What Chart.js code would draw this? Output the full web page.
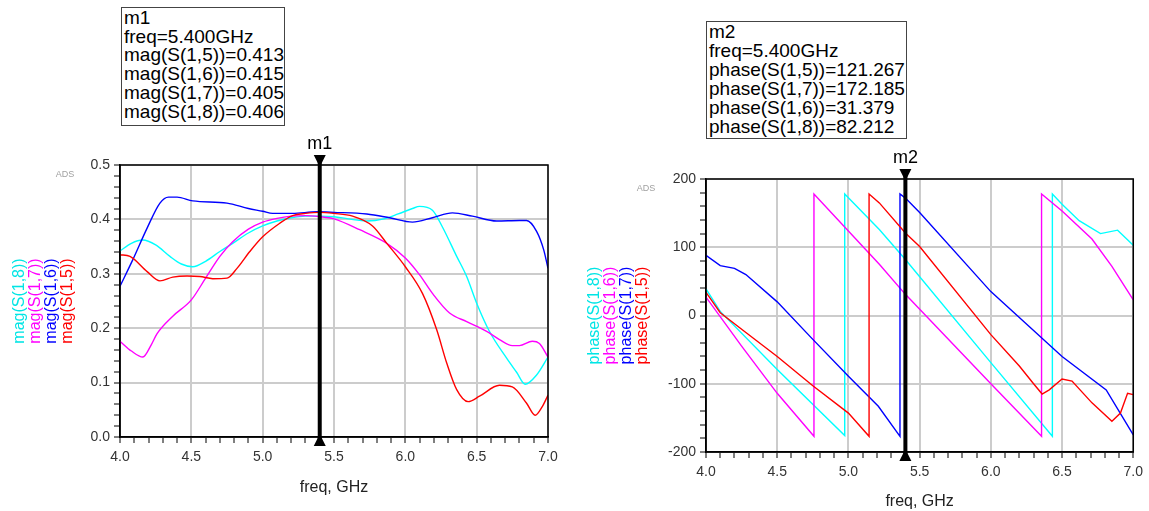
<!DOCTYPE html>
<html>
<head>
<meta charset="utf-8">
<script src="https://cdn.jsdelivr.net/npm/chart.js@4.4.1/dist/chart.umd.min.js"></script>
<style>
  body { margin: 0; background: #fff; width: 1149px; height: 511px; overflow: hidden; position: relative;
         font-family: "Liberation Sans", Arial, sans-serif; }
  .panel { position: absolute; top: 0; }
  .mbox { position: absolute; box-sizing: border-box; border: 1px solid #444; background: #fff;
          font-size: 19px; color: #000; padding-left: 2px; white-space: nowrap; }
</style>
</head>
<body>
<div class="panel" style="left:0"><canvas id="magChart" width="575" height="511"></canvas></div>
<div class="panel" style="left:575px"><canvas id="phaseChart" width="574" height="511"></canvas></div>
<div class="mbox" id="box-m1" style="left:121px;top:7px;width:164px;height:119px;line-height:18.7px;padding-top:1px"></div>
<div class="mbox" id="box-m2" style="left:706px;top:21px;width:201px;height:118px;line-height:19px"></div>

<script>
// marker readouts
const markerFreq = 5.4;
const m1Names = ['mag(S(1,5))', 'mag(S(1,6))', 'mag(S(1,7))', 'mag(S(1,8))'];
const m1Values = ['0.413', '0.415', '0.405', '0.406'];
const m2Names = ['phase(S(1,5))', 'phase(S(1,7))', 'phase(S(1,6))', 'phase(S(1,8))'];
const m2Values = ['121.267', '172.185', '31.379', '82.212'];

// --- magnitude, freq in GHz ---
const magF18 = [4.0, 4.08, 4.16, 4.25, 4.35, 4.43, 4.51, 4.6, 4.7, 4.79, 4.9, 5.0, 5.1, 5.2, 5.3, 5.4, 5.5, 5.6, 5.73, 5.85, 5.95, 6.05, 6.1, 6.19, 6.26, 6.36, 6.43, 6.5, 6.59, 6.71, 6.78, 6.84, 6.92, 7.0];
const magS18 = [0.342, 0.356, 0.362, 0.353, 0.332, 0.318, 0.313, 0.323, 0.341, 0.356, 0.375, 0.388, 0.397, 0.403, 0.406, 0.406, 0.405, 0.401, 0.397, 0.401, 0.41, 0.42, 0.424, 0.417, 0.386, 0.332, 0.295, 0.246, 0.194, 0.145, 0.119, 0.097, 0.114, 0.147];

const magF17 = [4.0, 4.08, 4.16, 4.22, 4.26, 4.37, 4.5, 4.6, 4.7, 4.79, 4.9, 5.0, 5.1, 5.2, 5.3, 5.4, 5.5, 5.68, 5.87, 6.0, 6.1, 6.19, 6.31, 6.43, 6.57, 6.66, 6.75, 6.8, 6.89, 6.94, 7.0];
const magS17 = [0.176, 0.158, 0.147, 0.17, 0.19, 0.222, 0.252, 0.292, 0.332, 0.359, 0.382, 0.395, 0.402, 0.406, 0.407, 0.405, 0.401, 0.381, 0.356, 0.329, 0.298, 0.264, 0.228, 0.212, 0.194, 0.179, 0.168, 0.168, 0.176, 0.172, 0.147];

const magF16 = [4.0, 4.09, 4.19, 4.28, 4.34, 4.4, 4.51, 4.75, 4.9, 5.0, 5.07, 5.21, 5.38, 5.5, 5.73, 5.89, 6.05, 6.19, 6.33, 6.47, 6.64, 6.8, 6.85, 6.92, 6.97, 7.0];
const magS16 = [0.277, 0.326, 0.384, 0.43, 0.441, 0.441, 0.434, 0.43, 0.42, 0.415, 0.411, 0.411, 0.414, 0.413, 0.41, 0.403, 0.395, 0.403, 0.412, 0.406, 0.397, 0.398, 0.398, 0.378, 0.344, 0.31];

const magF15 = [4.0, 4.07, 4.19, 4.28, 4.37, 4.47, 4.56, 4.65, 4.75, 4.82, 4.91, 5.0, 5.12, 5.21, 5.3, 5.4, 5.5, 5.63, 5.77, 5.87, 6.0, 6.12, 6.22, 6.29, 6.36, 6.44, 6.52, 6.66, 6.75, 6.85, 6.91, 6.96, 7.0];
const magS15 = [0.335, 0.332, 0.304, 0.287, 0.294, 0.296, 0.295, 0.291, 0.292, 0.31, 0.341, 0.368, 0.393, 0.407, 0.411, 0.413, 0.411, 0.406, 0.388, 0.356, 0.313, 0.264, 0.197, 0.136, 0.087, 0.065, 0.075, 0.095, 0.092, 0.062, 0.04, 0.056, 0.077];

// --- phase (deg), wraps at +/-180 so jumps repeat the freq ---
const phF18 = [4.0, 4.1, 4.5, 4.974, 4.974, 5.217, 5.4, 6.0, 6.432, 6.432, 6.5, 6.62, 6.77, 6.89, 7.0];
const phS18 = [39, 6, -79, -176, 178, 126, 82, -69, -177, 178, 163, 139, 120, 125, 103];

const phF16 = [4.0, 4.25, 4.5, 4.758, 4.758, 5.217, 5.4, 6.0, 6.356, 6.356, 6.5, 6.71, 6.85, 7.0];
const phS16 = [27, -45, -114, -177, 178, 75, 31, -100, -177, 178, 153, 112, 72, 23];

const phF17 = [4.0, 4.1, 4.2, 4.28, 4.5, 4.75, 5.0, 5.21, 5.362, 5.362, 5.4, 5.5, 6.0, 6.5, 6.81, 7.0];
const phS17 = [88, 73, 69, 60, 20, -35, -89, -133, -177, 178, 172, 151, 35, -60, -109, -175];

const phF15 = [4.0, 4.1, 4.28, 4.5, 4.75, 5.0, 5.145, 5.145, 5.217, 5.4, 5.5, 6.0, 6.2, 6.3, 6.36, 6.41, 6.5, 6.57, 6.71, 6.85, 6.91, 6.96, 7.0];
const phS15 = [34, 4, -25, -60, -103, -143, -177, 178, 165, 121, 101, -28, -74, -100, -115, -109, -93, -96, -128, -155, -143, -114, -116];

const FONT = '"Liberation Sans", Arial, sans-serif';
Chart.defaults.font.family = FONT;

const toPts = (xs, ys) => xs.map((x, i) => ({ x, y: ys[i] }));
const isStep = (v, step) => Math.abs(v / step - Math.round(v / step)) < 1e-6;

function fillBox(id, name, names, values) {
  const lines = [name, 'freq=' + markerFreq.toFixed(3) + 'GHz'];
  names.forEach((n, i) => lines.push(n + '=' + values[i]));
  const box = document.getElementById(id);
  lines.forEach(t => {
    const d = document.createElement('div');
    d.textContent = t;
    box.appendChild(d);
  });
}
fillBox('box-m1', 'm1', m1Names, m1Values);
fillBox('box-m2', 'm2', m2Names, m2Values);

// plot frame on all four sides
const framePlugin = {
  id: 'frame',
  afterDatasetsDraw(chart) {
    const { ctx, chartArea: a } = chart;
    ctx.save();
    ctx.strokeStyle = '#000';
    ctx.lineWidth = 1.5;
    ctx.strokeRect(a.left, a.top, a.right - a.left, a.bottom - a.top);
    ctx.restore();
  }
};

// coloured stacked y titles + "ADS" tag
const sideTitles = {
  id: 'sideTitles',
  afterDraw(chart, args, opts) {
    const { ctx, chartArea: a } = chart;
    const yc = (a.top + a.bottom) / 2;
    ctx.save();
    ctx.font = '16px ' + FONT;
    ctx.textAlign = 'center';
    ctx.textBaseline = 'middle';
    opts.texts.forEach((t, i) => {
      ctx.save();
      ctx.translate(opts.x0 + i * opts.gap, yc);
      ctx.rotate(-Math.PI / 2);
      ctx.fillStyle = opts.colors[i];
      ctx.fillText(t, 0, 0);
      ctx.restore();
    });
    ctx.font = '9px ' + FONT;
    ctx.fillStyle = '#a0a0a0';
    ctx.fillText('ADS', opts.adsX, a.top + 10);
    ctx.restore();
  }
};

// ADS style marker: thick line with triangles
const markerPlugin = {
  id: 'marker',
  afterDraw(chart, args, opts) {
    const { ctx, chartArea: a } = chart;
    const x = chart.scales.x.getPixelForValue(markerFreq);
    ctx.save();
    ctx.fillStyle = '#000';
    ctx.fillRect(x - 2, a.top - 9, 4, a.bottom - a.top + 18);
    ctx.beginPath();
    ctx.moveTo(x - 6, a.top - 10); ctx.lineTo(x + 6, a.top - 10); ctx.lineTo(x, a.top + 2);
    ctx.closePath(); ctx.fill();
    ctx.beginPath();
    ctx.moveTo(x - 6, a.bottom + 9); ctx.lineTo(x + 6, a.bottom + 9); ctx.lineTo(x, a.bottom - 3);
    ctx.closePath(); ctx.fill();
    ctx.font = '18px ' + FONT;
    ctx.textAlign = 'center';
    ctx.textBaseline = 'middle';
    ctx.fillText(opts.name, x, a.top - 21);
    ctx.restore();
  }
};

function lineSet(xs, ys, color, smooth) {
  return {
    data: toPts(xs, ys),
    borderColor: color,
    borderWidth: 1.4,
    pointRadius: 0,
    fill: false,
    cubicInterpolationMode: smooth ? 'monotone' : 'default',
    tension: 0
  };
}

function scales(o) {
  return {
    x: {
      type: 'linear', min: 4, max: 7,
      afterFit: s => { s.height = o.xh; },
      ticks: {
        stepSize: 0.1, autoSkip: false, maxRotation: 0, padding: 6, color: '#333',
        font: { size: 14 },
        callback: v => isStep(v, 0.5) ? v.toFixed(1) : ''
      },
      grid: {
        color: c => (c.tick && isStep(c.tick.value, 0.5)) ? '#cccccc' : 'rgba(0,0,0,0)',
        lineWidth: 2, tickColor: '#000', tickLength: 6, tickWidth: 1
      },
      border: { color: '#000', width: 1.5 },
      title: { display: true, text: 'freq, GHz', color: '#222', font: { size: 16 }, padding: { top: 0, bottom: o.titlePad } }
    },
    y: {
      min: o.ymin, max: o.ymax,
      afterFit: s => { s.width = o.yw; },
      ticks: {
        stepSize: o.minor, autoSkip: false, padding: 4, color: '#333', font: { size: 14 },
        callback: v => isStep(v, o.major) ? (o.dec ? v.toFixed(o.dec) : String(Math.round(v))) : ''
      },
      grid: {
        color: c => (c.tick && isStep(c.tick.value, o.major)) ? '#cccccc' : 'rgba(0,0,0,0)',
        lineWidth: 2, tickColor: '#000', tickLength: 6, tickWidth: 1
      },
      border: { color: '#000', width: 1.5 }
    }
  };
}

new Chart(document.getElementById('magChart'), {
  type: 'line',
  data: {
    datasets: [
      lineSet(magF15, magS15, '#ff0000', true),
      lineSet(magF16, magS16, '#0000ff', true),
      lineSet(magF17, magS17, '#ff00ff', true),
      lineSet(magF18, magS18, '#00ffff', true)
    ]
  },
  options: {
    responsive: false, animation: false, devicePixelRatio: 1,
    layout: { padding: { left: 0, top: 165, right: 27, bottom: 0 } },
    scales: scales({ xh: 74, yw: 120, ymin: 0, ymax: 0.5, minor: 0.02, major: 0.1, dec: 1, titlePad: 14 }),
    plugins: {
      legend: { display: false }, tooltip: { enabled: false },
      marker: { name: 'm1' },
      sideTitles: {
        texts: ['mag(S(1,8))', 'mag(S(1,7))', 'mag(S(1,6))', 'mag(S(1,5))'],
        colors: ['#00e5e5', '#ff00ff', '#0000ff', '#ff0000'],
        x0: 20, gap: 15.7, adsX: 65
      }
    }
  },
  plugins: [framePlugin, markerPlugin, sideTitles]
});

new Chart(document.getElementById('phaseChart'), {
  type: 'line',
  data: {
    datasets: [
      lineSet(phF15, phS15, '#ff0000', false),
      lineSet(phF17, phS17, '#0000ff', false),
      lineSet(phF16, phS16, '#ff00ff', false),
      lineSet(phF18, phS18, '#00ffff', false)
    ]
  },
  options: {
    responsive: false, animation: false, devicePixelRatio: 1,
    layout: { padding: { left: 0, top: 179, right: 15, bottom: 0 } },
    scales: scales({ xh: 59, yw: 131, ymin: -200, ymax: 200, minor: 20, major: 100, dec: 0, titlePad: 0 }),
    plugins: {
      legend: { display: false }, tooltip: { enabled: false },
      marker: { name: 'm2' },
      sideTitles: {
        texts: ['phase(S(1,8))', 'phase(S(1,6))', 'phase(S(1,7))', 'phase(S(1,5))'],
        colors: ['#00e5e5', '#ff00ff', '#0000ff', '#ff0000'],
        x0: 20, gap: 16, adsX: 71
      }
    }
  },
  plugins: [framePlugin, markerPlugin, sideTitles]
});
</script>
</body>
</html>
